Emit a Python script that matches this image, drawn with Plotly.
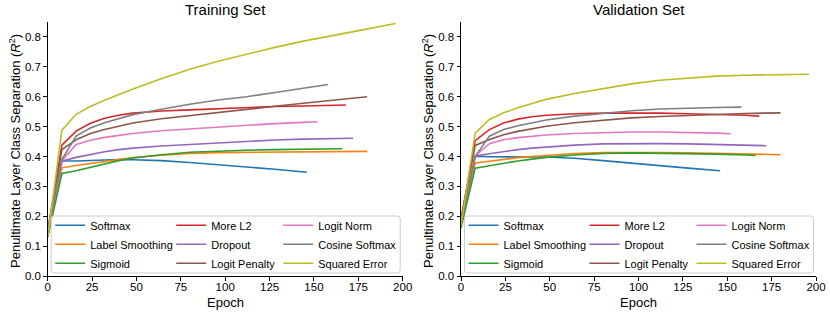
import plotly.graph_objects as go

# ---------------- data ----------------
METHODS = ["Softmax", "Label Smoothing", "Sigmoid",
           "More L2", "Dropout", "Logit Penalty",
           "Logit Norm", "Cosine Softmax", "Squared Error"]
COLORS = ["#1f77b4", "#ff7f0e", "#2ca02c", "#d62728", "#9467bd",
          "#8c564b", "#e377c2", "#7f7f7f", "#bcbd22"]

X_TICKS = [0, 25, 50, 75, 100, 125, 150, 175, 200]
Y_TICKS = [0.0, 0.1, 0.2, 0.3, 0.4, 0.5, 0.6, 0.7, 0.8]

ep_softmax = [0, 8, 16, 24, 32, 40, 48, 64, 80, 96, 112, 128, 146]
ep_label_smoothing = [0, 8, 16, 24, 32, 40, 48, 64, 80, 96, 112, 128, 144, 160, 180]
ep_sigmoid = [0, 8, 16, 24, 32, 40, 48, 64, 80, 96, 112, 128, 144, 160, 166]
ep_more_l2 = [0, 8, 16, 24, 32, 40, 48, 64, 80, 96, 112, 128, 144, 160, 168]
ep_dropout = [0, 8, 16, 24, 32, 40, 48, 64, 80, 96, 112, 128, 144, 160, 172]
ep_logit_penalty = [0, 8, 16, 24, 32, 40, 48, 64, 80, 96, 112, 128, 144, 160, 180]
ep_logit_norm = [0, 8, 16, 24, 32, 40, 48, 64, 80, 96, 112, 128, 144, 152]
ep_cosine_softmax = [0, 8, 16, 24, 32, 40, 48, 64, 80, 96, 112, 128, 144, 158]
ep_squared_error = [0, 8, 16, 24, 32, 40, 48, 64, 80, 96, 112, 128, 144, 160, 176, 196]

train_softmax = [0.13, 0.385, 0.385, 0.387, 0.389, 0.390, 0.389, 0.386, 0.380, 0.373, 0.366, 0.357, 0.347]
train_label_smoothing = [0.14, 0.362, 0.370, 0.377, 0.383, 0.390, 0.396, 0.404, 0.410, 0.413, 0.414, 0.415, 0.415, 0.416, 0.417]
train_sigmoid = [0.13, 0.343, 0.352, 0.364, 0.376, 0.386, 0.395, 0.406, 0.414, 0.418, 0.421, 0.423, 0.425, 0.426, 0.426]
train_more_l2 = [0.15, 0.438, 0.485, 0.511, 0.528, 0.538, 0.545, 0.552, 0.556, 0.560, 0.564, 0.567, 0.569, 0.571, 0.572]
train_dropout = [0.14, 0.384, 0.397, 0.407, 0.416, 0.423, 0.428, 0.435, 0.440, 0.446, 0.451, 0.455, 0.458, 0.460, 0.461]
train_logit_penalty = [0.15, 0.423, 0.456, 0.477, 0.490, 0.502, 0.512, 0.526, 0.537, 0.548, 0.558, 0.568, 0.578, 0.588, 0.600]
train_logit_norm = [0.14, 0.385, 0.440, 0.454, 0.464, 0.471, 0.477, 0.486, 0.492, 0.499, 0.505, 0.510, 0.514, 0.516]
train_cosine_softmax = [0.14, 0.390, 0.468, 0.495, 0.513, 0.527, 0.540, 0.558, 0.575, 0.589, 0.600, 0.614, 0.628, 0.641]
train_squared_error = [0.13, 0.488, 0.541, 0.567, 0.588, 0.607, 0.626, 0.660, 0.692, 0.719, 0.743, 0.765, 0.786, 0.805, 0.822, 0.845]

val_softmax = [0.17, 0.401, 0.399, 0.398, 0.398, 0.398, 0.398, 0.394, 0.386, 0.377, 0.369, 0.361, 0.352]
val_label_smoothing = [0.17, 0.378, 0.384, 0.391, 0.396, 0.400, 0.404, 0.410, 0.413, 0.414, 0.413, 0.412, 0.410, 0.408, 0.406]
val_sigmoid = [0.16, 0.361, 0.369, 0.378, 0.385, 0.391, 0.397, 0.405, 0.410, 0.412, 0.411, 0.410, 0.408, 0.405, 0.403]
val_more_l2 = [0.19, 0.453, 0.490, 0.512, 0.525, 0.533, 0.538, 0.543, 0.545, 0.546, 0.545, 0.543, 0.541, 0.538, 0.535]
val_dropout = [0.18, 0.402, 0.409, 0.417, 0.423, 0.428, 0.432, 0.438, 0.442, 0.443, 0.443, 0.442, 0.440, 0.438, 0.436]
val_logit_penalty = [0.19, 0.437, 0.457, 0.473, 0.484, 0.493, 0.501, 0.513, 0.522, 0.529, 0.534, 0.538, 0.541, 0.544, 0.546]
val_logit_norm = [0.18, 0.402, 0.443, 0.456, 0.463, 0.468, 0.472, 0.477, 0.480, 0.482, 0.482, 0.481, 0.478, 0.476]
val_cosine_softmax = [0.17, 0.400, 0.468, 0.490, 0.503, 0.513, 0.522, 0.535, 0.544, 0.553, 0.559, 0.562, 0.564, 0.565]
val_squared_error = [0.17, 0.478, 0.524, 0.546, 0.563, 0.578, 0.591, 0.611, 0.628, 0.643, 0.655, 0.663, 0.669, 0.672, 0.674, 0.675]

EPOCHS = [ep_softmax, ep_label_smoothing, ep_sigmoid, ep_more_l2, ep_dropout,
          ep_logit_penalty, ep_logit_norm, ep_cosine_softmax, ep_squared_error]
TRAIN = [train_softmax, train_label_smoothing, train_sigmoid, train_more_l2, train_dropout,
         train_logit_penalty, train_logit_norm, train_cosine_softmax, train_squared_error]
VAL = [val_softmax, val_label_smoothing, val_sigmoid, val_more_l2, val_dropout,
       val_logit_penalty, val_logit_norm, val_cosine_softmax, val_squared_error]

# ---------------- layout helpers (pixel -> paper) ----------------
W, H = 830, 312
FONT = "Liberation Sans, Arial, Helvetica, sans-serif"


def px(x):
    return x / W


def py(y):
    return 1 - y / H


PLOT_TOP, PLOT_BOTTOM = 22, 276
PANELS = [(47.7, 402.7), (461.0, 816.0)]

fig = go.Figure()

for p, data in enumerate([TRAIN, VAL]):
    xa = "x" if p == 0 else "x2"
    ya = "y" if p == 0 else "y2"
    for i, name in enumerate(METHODS):
        col = i // 3
        leg_id = 3 * p + col + 1
        fig.add_trace(go.Scatter(
            x=EPOCHS[i], y=data[i], mode="lines", name=name,
            line=dict(color=COLORS[i], width=1.6),
            xaxis=xa, yaxis=ya,
            legend="legend" if leg_id == 1 else f"legend{leg_id}",
        ))

axis_common = dict(
    showline=True, linecolor="black", linewidth=1,
    ticks="outside", ticklen=3.5, tickwidth=1, tickcolor="black",
    showgrid=False, zeroline=False, automargin=False,
    tickfont=dict(size=11.5, color="black", family=FONT),
)

layout = dict(
    width=W, height=H,
    margin=dict(l=0, r=0, t=0, b=0),
    paper_bgcolor="white", plot_bgcolor="white",
    font=dict(family=FONT, color="black"),
    showlegend=True,
)

for p, (x0, x1) in enumerate(PANELS):
    sfx = "" if p == 0 else "2"
    layout["xaxis" + sfx] = dict(
        domain=[px(x0), px(x1)], range=[0, 200], tickmode="array",
        tickvals=X_TICKS, anchor="y" + sfx, ticklabelstandoff=-3, **axis_common)
    layout["yaxis" + sfx] = dict(
        domain=[py(PLOT_BOTTOM), py(PLOT_TOP)], range=[0, 0.85], tickmode="array",
        tickvals=Y_TICKS, tickformat=".1f", anchor="x" + sfx, **axis_common)

# legends: three vertical columns per panel
COL_OFFSETS = [2.5, 123.5, 230.5]
LEG_TOP = 210.8
shapes = []
annotations = []
for p, (x0, x1) in enumerate(PANELS):
    for c, off in enumerate(COL_OFFSETS):
        leg_id = 3 * p + c + 1
        key = "legend" if leg_id == 1 else f"legend{leg_id}"
        layout[key] = dict(
            x=px(x0 + off), y=py(LEG_TOP), xanchor="left", yanchor="top",
            orientation="v", bgcolor="rgba(0,0,0,0)", borderwidth=0,
            font=dict(size=11, family=FONT, color="black"),
            itemwidth=30, tracegroupgap=0,
        )
    # legend frame (rounded rectangle)
    fx0, fx1 = x0 + 3.5, x0 + 352.5
    fy0, fy1 = 216.0, 273.0
    r = 3.0
    path = (f"M {px(fx0 + r)},{py(fy0)} L {px(fx1 - r)},{py(fy0)} "
            f"Q {px(fx1)},{py(fy0)} {px(fx1)},{py(fy0 + r)} "
            f"L {px(fx1)},{py(fy1 - r)} Q {px(fx1)},{py(fy1)} {px(fx1 - r)},{py(fy1)} "
            f"L {px(fx0 + r)},{py(fy1)} Q {px(fx0)},{py(fy1)} {px(fx0)},{py(fy1 - r)} "
            f"L {px(fx0)},{py(fy0 + r)} Q {px(fx0)},{py(fy0)} {px(fx0 + r)},{py(fy0)} Z")
    shapes.append(dict(type="path", xref="paper", yref="paper", path=path,
                       fillcolor="rgba(255,255,255,0.8)",
                       line=dict(color="rgba(204,204,204,1)", width=1),
                       layer="above"))

TITLES = ["Training Set", "Validation Set"]
Y_TITLE = "Penultimate Layer Class Separation (<i>R</i><sup>2</sup>)"
Y_TITLE_X = [15.0, 428.0]
for p, (x0, x1) in enumerate(PANELS):
    cx = (x0 + x1) / 2
    annotations.append(dict(text=TITLES[p], x=px(cx), y=py(9.5), xref="paper", yref="paper",
                            xanchor="center", yanchor="middle", showarrow=False,
                            font=dict(size=15, family=FONT, color="black")))
    annotations.append(dict(text="Epoch", x=px(cx), y=py(302), xref="paper", yref="paper",
                            xanchor="center", yanchor="middle", showarrow=False,
                            font=dict(size=13, family=FONT, color="black")))
    annotations.append(dict(text=Y_TITLE, x=px(Y_TITLE_X[p]), y=py((PLOT_TOP + PLOT_BOTTOM) / 2 + 2),
                            xref="paper", yref="paper", textangle=-90,
                            xanchor="center", yanchor="middle", showarrow=False,
                            font=dict(size=13, family=FONT, color="black")))

layout["shapes"] = shapes
layout["annotations"] = annotations
fig.update_layout(**layout)

fig.write_html("out.html",
               config={"displayModeBar": False},
               post_script="document.body.style.margin='0';document.body.style.overflow='hidden';")
